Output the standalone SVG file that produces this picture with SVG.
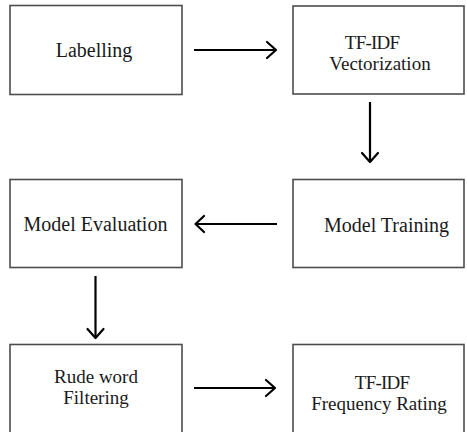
<svg xmlns="http://www.w3.org/2000/svg" width="467" height="432" viewBox="0 0 467 432">
  <style>
    .box { fill: #ffffff; stroke: #4d4d4d; stroke-width: 1.6; }
    .lbl { font-family: "Liberation Serif", "Times New Roman", serif; font-size: 20px; fill: #1a1a1a; text-anchor: middle; }
    .two { font-size: 19px; }
    .flow { fill: none; stroke: #000000; stroke-width: 2.2; stroke-linecap: butt; }
    .head { fill: none; stroke: #000000; stroke-width: 2.2; stroke-linecap: round; stroke-linejoin: round; }
  </style>
  <rect width="467" height="432" fill="#ffffff"/>

  <g id="node-labelling">
    <rect class="box" x="10" y="5.5" width="172" height="89"/>
    <text class="lbl" x="94" y="57">Labelling</text>
  </g>

  <g id="node-tfidf-vectorization">
    <rect class="box" x="293" y="6" width="171" height="88"/>
    <text class="lbl two"><tspan x="372" y="48.5" letter-spacing="-0.8">TF-IDF</tspan><tspan x="380" y="69.5">Vectorization</tspan></text>
  </g>

  <g id="node-model-training">
    <rect class="box" x="293" y="179.5" width="171" height="88"/>
    <text class="lbl" x="386.5" y="231.5">Model Training</text>
  </g>

  <g id="node-model-evaluation">
    <rect class="box" x="10" y="179.5" width="172" height="88"/>
    <text class="lbl" x="95.5" y="231">Model Evaluation</text>
  </g>

  <g id="node-rude-word-filtering">
    <rect class="box" x="10" y="344.5" width="172" height="100"/>
    <text class="lbl two"><tspan x="96" y="382.5">Rude word</tspan><tspan x="96" y="403.5">Filtering</tspan></text>
  </g>

  <g id="node-tfidf-frequency-rating">
    <rect class="box" x="293" y="344.5" width="171" height="100"/>
    <text class="lbl two"><tspan x="382" y="389" letter-spacing="-0.8">TF-IDF</tspan><tspan x="379" y="410">Frequency Rating</tspan></text>
  </g>

  <g id="connectors">
    <!-- Labelling to TF-IDF Vectorization -->
    <line class="flow" x1="194" y1="50" x2="275.5" y2="50"/>
    <polyline class="head" points="267,42 276,50 267,58"/>
    <!-- TF-IDF Vectorization to Model Training -->
    <line class="flow" x1="370" y1="102" x2="370" y2="162"/>
    <polyline class="head" points="362,153 370,162 378,153"/>
    <!-- Model Training to Model Evaluation -->
    <line class="flow" x1="277" y1="224" x2="196" y2="224"/>
    <polyline class="head" points="204,216 195.5,224 204,232"/>
    <!-- Model Evaluation to Rude word Filtering -->
    <line class="flow" x1="95.5" y1="276" x2="95.5" y2="337.5"/>
    <polyline class="head" points="87.5,329 95.5,338 103.5,329"/>
    <!-- Rude word Filtering to TF-IDF Frequency Rating -->
    <line class="flow" x1="194" y1="388" x2="274.5" y2="388"/>
    <polyline class="head" points="266,380 275,388 266,396"/>
  </g>
</svg>
